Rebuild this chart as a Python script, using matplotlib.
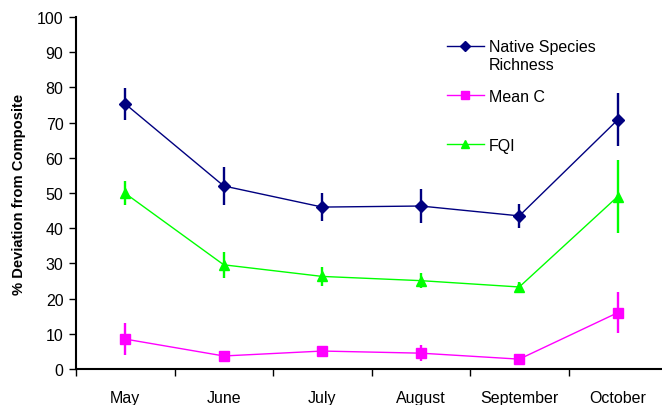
import matplotlib.pyplot as plt
import numpy as np

plt.rcParams['font.family'] = ['Liberation Sans', 'DejaVu Sans']

# data
months = ["May", "June", "July", "August", "September", "October"]

native = [75.3, 52.0, 46.0, 46.3, 43.5, 70.8]
native_err = [4.5, 5.5, 4.0, 4.8, 3.5, 7.5]

mean_c = [8.5, 3.7, 5.1, 4.5, 2.8, 16.0]
mean_c_err = [4.5, 0.8, 1.0, 2.2, 0.8, 5.8]

fqi = [49.9, 29.6, 26.3, 25.1, 23.3, 49.0]
fqi_err = [3.4, 3.7, 2.7, 2.2, 1.5, 10.3]

x = np.arange(len(months))

fig = plt.figure(figsize=(6.62, 4.06), dpi=100)
ax = fig.add_axes([76 / 662, 36 / 406, 591 / 662, 352 / 406])

series = [
    ("Native Species", native, native_err, "#000080", "D", 6),
    ("Mean C", mean_c, mean_c_err, "#FF00FF", "s", 7),
    ("FQI", fqi, fqi_err, "#00FF00", "^", 7),
]
for label, vals, errs, col, mk, ms in series:
    ax.errorbar(x, vals, yerr=errs, fmt="none", ecolor=col, elinewidth=1.7, capsize=0)
    ax.plot(x, vals, color=col, marker=mk, markersize=ms, linewidth=1, label=label)

ax.set_xlim(-0.5, 5.5)
ax.set_ylim(0, 100)
ax.set_yticks(range(0, 101, 10))
ax.tick_params(axis="y", labelsize=11.5, length=5, width=1, pad=4)

# ticks between categories, labels at centres
ax.set_xticks(np.arange(-0.5, 5.6, 1))
ax.set_xticklabels([])
ax.set_xticks(x, minor=True)
ax.set_xticklabels(months, minor=True)
ax.tick_params(axis="x", which="major", length=5, width=1)
ax.tick_params(axis="x", which="minor", length=0, labelsize=11.5, pad=15)

for s in ["top", "right"]:
    ax.spines[s].set_visible(False)
for s in ["left", "bottom"]:
    ax.spines[s].set_linewidth(1.5)

ax.set_ylabel("% Deviation from Composite", fontsize=10.6, fontweight="bold", labelpad=8)

leg = ax.legend(loc="upper left", bbox_to_anchor=(0.617, 0.955), frameon=False,
                fontsize=11.5, labelspacing=2.15, handlelength=2.3, handletextpad=0.3,
                borderaxespad=0, markerscale=0.8)
# second line of the first legend entry
ax.annotate("Richness", xy=(0, 0), xycoords=leg.get_texts()[0],
            xytext=(0, -2), textcoords="offset points", va="top", fontsize=11.5,
            zorder=10)

fig.savefig("out.png", dpi=100)
